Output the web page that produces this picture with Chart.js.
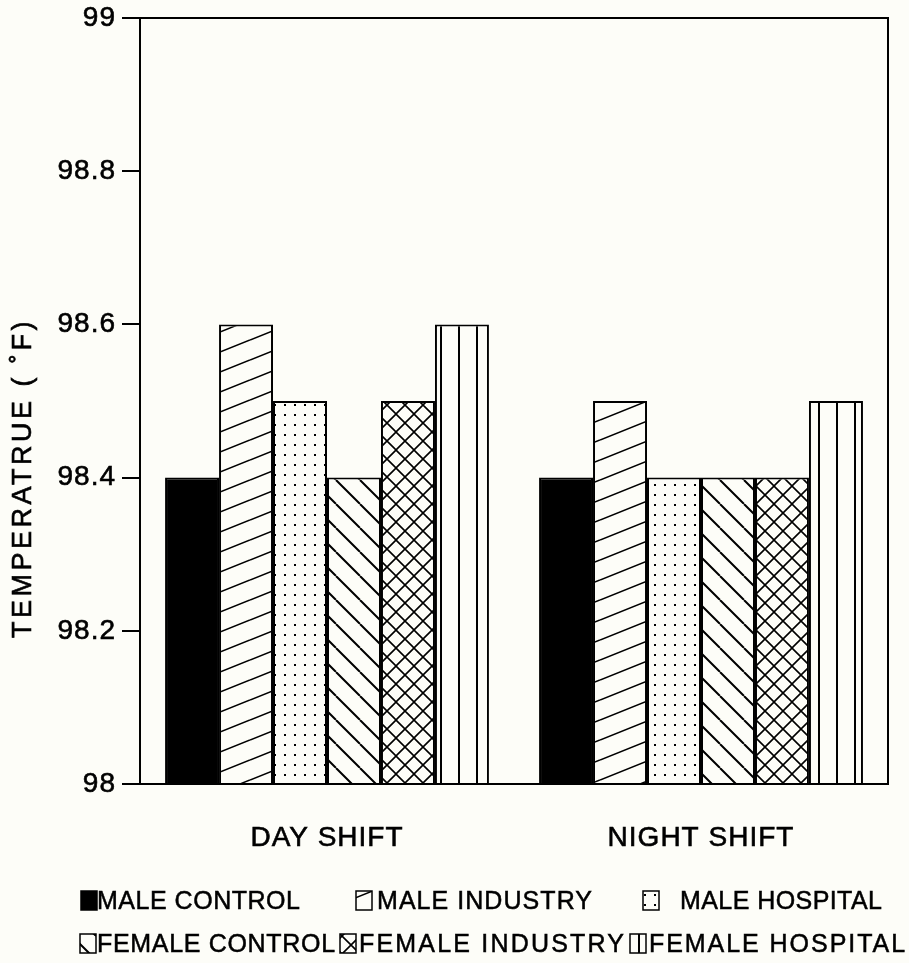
<!DOCTYPE html>
<html>
<head>
<meta charset="utf-8">
<script src="https://cdn.jsdelivr.net/npm/chart.js@4.4.0/dist/chart.umd.min.js"></script>
<style>
  html, body { margin: 0; padding: 0; background: #fdfdf8; }
  #wrap { width: 909px; height: 963px; position: relative; }
</style>
</head>
<body>
<div id="wrap"><canvas id="chart" width="909" height="963"></canvas></div>
<script>
// data
const shifts = ['DAY SHIFT', 'NIGHT SHIFT'];
const groupNames = ['MALE CONTROL', 'MALE INDUSTRY', 'MALE HOSPITAL',
                    'FEMALE CONTROL', 'FEMALE INDUSTRY', 'FEMALE HOSPITAL'];
const maleControl    = [98.4, 98.4];
const maleIndustry   = [98.6, 98.5];
const maleHospital   = [98.5, 98.4];
const femaleControl  = [98.4, 98.4];
const femaleIndustry = [98.5, 98.4];
const femaleHospital = [98.6, 98.5];
const yTicks = [98, 98.2, 98.4, 98.6, 98.8, 99];
const yTitle = 'TEMPERATRUE ( ˚F)';

const BG = '#fdfdf8';
const FONT = '"Liberation Sans", Arial, sans-serif';

// hatch tiles
function makePattern(w, h, draw) {
    const c = document.createElement('canvas');
    c.width = w; c.height = h;
    const g = c.getContext('2d');
    g.fillStyle = BG;
    g.fillRect(0, 0, w, h);
    g.strokeStyle = '#000';
    g.fillStyle = '#000';
    draw(g, w, h);
    return g.createPattern(c, 'repeat');
}
const pSolid = '#000';
const pRising = makePattern(50, 20, (g, w, h) => {
    g.lineWidth = 1.6;
    g.beginPath();
    [-h, 0, h].forEach(o => { g.moveTo(0, h + o); g.lineTo(w, o); });
    g.stroke();
});
const pDots = makePattern(10, 10, (g) => {
    g.fillRect(4, 4, 2, 2);
});
const pFalling = makePattern(24, 24, (g, w, h) => {
    g.lineWidth = 2;
    g.beginPath();
    [-w, 0, w].forEach(o => { g.moveTo(o, 0); g.lineTo(o + w, h); });
    g.stroke();
});
const pCross = makePattern(18, 18, (g, w, h) => {
    g.lineWidth = 1.6;
    g.beginPath();
    [-w, 0, w].forEach(o => {
        g.moveTo(o, 0); g.lineTo(o + w, h);
        g.moveTo(o, h); g.lineTo(o + w, 0);
    });
    g.stroke();
});
const pVert = makePattern(18, 10, (g) => {
    g.fillRect(8, 0, 2, 10);
});

const fills = [pSolid, pRising, pDots, pFalling, pCross, pVert];
const series = [maleControl, maleIndustry, maleHospital, femaleControl, femaleIndustry, femaleHospital];

// legend layout: box left, text start, text end, row centre
const legendSlots = [
    { box: 81, x0: 97, x1: 300, y: 901 },
    { box: 356, x0: 377, x1: 592, y: 901 },
    { box: 643, x0: 680, x1: 882, y: 901 },
    { box: 80, x0: 97, x1: 335, y: 944 },
    { box: 340, x0: 359, x1: 624, y: 944 },
    { box: 630, x0: 649, x1: 905, y: 944 }
];

// draws text with letter spacing chosen so it spans x0..x1
function fitText(ctx, txt, x0, x1, y) {
    ctx.letterSpacing = '0px';
    const w = ctx.measureText(txt).width;
    const sp = Math.max(0, (x1 - x0 - w) / (txt.length - 1));
    ctx.letterSpacing = sp.toFixed(2) + 'px';
    ctx.fillText(txt, x0, y);
    ctx.strokeText(txt, x0, y);
}

// background, frame, axis title and legend drawn on the canvas
const frameAndLegend = {
    id: 'frameAndLegend',
    beforeDraw(chart) {
        const ctx = chart.ctx;
        ctx.fillStyle = BG;
        ctx.fillRect(0, 0, chart.width, chart.height);
        ctx.letterSpacing = '1px';
    },
    afterDraw(chart) {
        const ctx = chart.ctx;
        const a = chart.chartArea;
        ctx.save();
        ctx.strokeStyle = '#000';
        ctx.lineWidth = 2;
        ctx.strokeRect(a.left, a.top, a.right - a.left, a.bottom - a.top);

        // rotated y title
        ctx.save();
        ctx.translate(24, 478);
        ctx.rotate(-Math.PI / 2);
        ctx.font = '27px ' + FONT;
        ctx.letterSpacing = '3.5px';
        ctx.textAlign = 'center';
        ctx.textBaseline = 'middle';
        ctx.fillStyle = '#000';
        ctx.lineWidth = 0.6;
        ctx.fillText(yTitle, 0, 0);
        ctx.strokeText(yTitle, 0, 0);
        ctx.restore();

        ctx.font = '25px ' + FONT;
        ctx.textBaseline = 'middle';
        legendSlots.forEach((it, i) => {
            ctx.fillStyle = fills[i];
            ctx.lineWidth = 1.5;
            ctx.fillRect(it.box, it.y - 10, 16, 19);
            ctx.strokeRect(it.box, it.y - 10, 16, 19);
            ctx.fillStyle = '#000';
            ctx.lineWidth = 0.5;
            fitText(ctx, groupNames[i], it.x0, it.x1, it.y + 1);
        });
        ctx.restore();
        ctx.letterSpacing = '0px';
    }
};

new Chart(document.getElementById('chart'), {
    type: 'bar',
    data: {
        labels: shifts,
        datasets: groupNames.map((name, i) => ({
            label: name,
            data: series[i],
            backgroundColor: fills[i],
            borderColor: '#000',
            borderWidth: 2,
            borderSkipped: false,
            categoryPercentage: 0.866,
            barPercentage: 1.0
        }))
    },
    options: {
        responsive: false,
        animation: false,
        events: [],
        layout: { padding: { top: 18, right: 21, left: 0, bottom: 0 } },
        plugins: { legend: { display: false }, tooltip: { enabled: false } },
        scales: {
            x: {
                grid: { display: false },
                border: { display: true, color: '#000', width: 2 },
                ticks: {
                    color: '#000', padding: 29,
                    font: { family: FONT, size: 28 },
                    textStrokeColor: '#000', textStrokeWidth: 0.6
                },
                afterFit(scale) { scale.height = 179; }
            },
            y: {
                min: 98,
                max: 99,
                afterBuildTicks(scale) { scale.ticks = yTicks.map(v => ({ value: v })); },
                grid: { drawOnChartArea: false, tickLength: 18, color: '#000', lineWidth: 2 },
                border: { display: true, color: '#000', width: 2 },
                ticks: {
                    color: '#000',
                    padding: 6,
                    font: { family: FONT, size: 28 },
                    textStrokeColor: '#000', textStrokeWidth: 0.6,
                    callback: v => String(Math.round(v * 10) / 10)
                },
                afterFit(scale) {
                    scale.width = 140;
                    scale.paddingTop = 0;
                    scale.paddingBottom = 0;
                }
            }
        }
    },
    plugins: [frameAndLegend]
});
</script>
</body>
</html>
